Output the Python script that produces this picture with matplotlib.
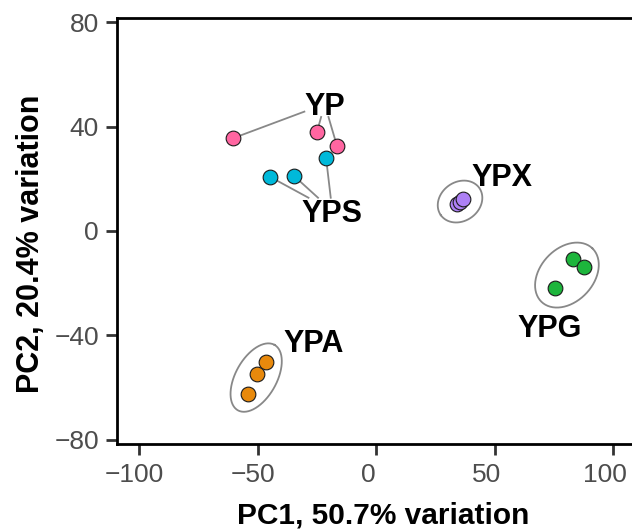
import numpy as np
import matplotlib
matplotlib.use("Agg")
import matplotlib.pyplot as plt
from matplotlib.transforms import ScaledTranslation

# ---------------- data ----------------
groups = ["YP", "YPS", "YPX", "YPG", "YPA"]
group_colors = ["#FF66A1", "#00B9DA", "#AD80F5", "#1DB53C", "#E8890C"]

sample_group = ["YP"] * 3 + ["YPS"] * 3 + ["YPX"] * 3 + ["YPG"] * 3 + ["YPA"] * 3
pc1_values = [-60.3, -24.9, -16.5,
              -44.6, -34.6, -21.1,
              34.0, 35.4, 36.8,
              75.6, 82.9, 87.7,
              -54.0, -50.3, -46.5]
pc2_values = [35.6, 38.1, 32.6,
              20.7, 21.1, 27.9,
              10.4, 11.3, 12.2,
              -21.9, -10.6, -13.9,
              -62.4, -54.9, -50.4]

label_x = [-21.7, -18.5, 53.0, 73.0, -26.5]
label_y = [44.5, 3.6, 17.3, -40.8, -46.3]
segment_groups = ["YP", "YPS"]
ellipse_groups = ["YPX", "YPG", "YPA"]

x_ticks = [-100, -50, 0, 50, 100]
y_ticks = [-80, -40, 0, 40, 80]
x_title = "PC1, 50.7% variation"
y_title = "PC2, 20.4% variation"

# ---------------- figure ----------------
plt.rcParams["font.family"] = ["Liberation Sans", "DejaVu Sans"]
W, H = 632, 530
fig = plt.figure(figsize=(W / 100, H / 100), dpi=100)
ax = fig.add_axes([117 / W, (H - 444) / H, (635 - 117) / W, (444 - 18) / H])
ax.set_xlim(-109.3, 109.2)
ax.set_ylim(-81.7, 81.7)

for s in ax.spines.values():
    s.set_linewidth(2.0)
    s.set_color("black")
ax.set_xticks(x_ticks)
ax.set_yticks(y_ticks)
ax.set_xticklabels([f"{t}".replace("-", "\u2212") for t in x_ticks])
ax.set_yticklabels([f"{t}".replace("-", "\u2212") for t in y_ticks])
ax.tick_params(axis="both", length=7.8, width=2.0, color="#333333",
               labelcolor="#4D4D4D", labelsize=19)
ax.tick_params(axis="x", pad=5.8)
ax.tick_params(axis="y", pad=5.2)

ax.set_xlabel(x_title, fontsize=21.5, fontweight="bold", va="baseline")
ax.xaxis.set_label_coords((383.5 - 117) / 518, (444 - 523) / 426)
ax.set_ylabel(y_title, fontsize=22, fontweight="bold", va="baseline")
ax.yaxis.set_label_coords((39.3 - 117) / 518, (444 - 244) / 426)

gx = np.array(pc1_values)
gy = np.array(pc2_values)
gg = np.array(sample_group)

# points
for g, c in zip(groups, group_colors):
    m = gg == g
    ax.scatter(gx[m], gy[m], s=112, color=c, edgecolor="#1a1a1a",
               linewidth=0.8, zorder=4)

# labels
texts = {}
for g, lx, ly in zip(groups, label_x, label_y):
    texts[g] = ax.text(lx, ly, g, fontsize=22, fontweight="bold",
                       ha="center", va="baseline", color="black", zorder=5)

fig.canvas.draw()
renderer = fig.canvas.get_renderer()
inv = ax.transData.inverted()

# ellipses around groups (computed in display space)
pad = 19.5
for g in ellipse_groups:
    m = gg == g
    pts = ax.transData.transform(np.column_stack([gx[m], gy[m]]))
    mean = pts.mean(axis=0)
    cen = pts - mean
    cov = cen.T @ cen
    vals, vecs = np.linalg.eigh(cov)
    v1 = vecs[:, 1]
    v2 = vecs[:, 0]
    p1 = cen @ v1
    p2 = cen @ v2
    c0 = mean + v1 * (p1.max() + p1.min()) / 2 + v2 * (p2.max() + p2.min()) / 2
    a = (p1.max() - p1.min()) / 2 + pad
    b = (p2.max() - p2.min()) / 2 + pad
    t = np.linspace(0, 2 * np.pi, 200)
    ell = c0 + np.outer(a * np.cos(t), v1) + np.outer(b * np.sin(t), v2)
    ed = inv.transform(ell)
    ax.plot(ed[:, 0], ed[:, 1], color="#888888", lw=1.3, zorder=2)

# segments from points to labels
for g in segment_groups:
    m = gg == g
    tx = texts[g]
    bb = tx.get_window_extent(renderer)
    base = ax.transData.transform((label_x[groups.index(g)], label_y[groups.index(g)]))
    fs_px = tx.get_fontsize() * fig.dpi / 72
    x0, x1 = bb.x0, bb.x1
    y0 = base[1] - 2
    y1 = base[1] + 0.716 * fs_px + 2
    C = np.array([(x0 + x1) / 2, (y0 + y1) / 2])
    pts = ax.transData.transform(np.column_stack([gx[m], gy[m]]))
    for P in pts:
        d = C - P
        tvals = [0.0]
        if P[0] < x0:
            tvals.append((x0 - P[0]) / d[0])
        elif P[0] > x1:
            tvals.append((x1 - P[0]) / d[0])
        if P[1] < y0:
            tvals.append((y0 - P[1]) / d[1])
        elif P[1] > y1:
            tvals.append((y1 - P[1]) / d[1])
        tt = max(tvals)
        E = P + tt * d
        seg = inv.transform(np.vstack([P, E]))
        ax.plot(seg[:, 0], seg[:, 1], color="#888888", lw=1.3, zorder=2)

# shift x tick labels slightly left, as in the reference
for lab, t in zip(ax.get_xticklabels(), x_ticks):
    dx = -4.5 if t < 0 else -8.0
    lab.set_transform(lab.get_transform() +
                      ScaledTranslation(dx / 100, 0, fig.dpi_scale_trans))

fig.savefig("out.png", dpi=100)
